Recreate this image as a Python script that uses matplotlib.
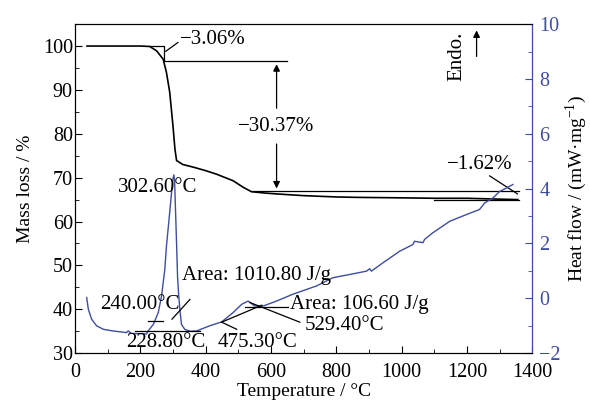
import numpy as np
import matplotlib.pyplot as plt
from matplotlib.ticker import MultipleLocator

plt.rcParams['font.family'] = ['Liberation Serif', 'DejaVu Serif']
plt.rcParams['mathtext.fontset'] = 'custom'
plt.rcParams['mathtext.rm'] = 'Liberation Serif'
plt.rcParams['font.size'] = 15

# TG curve (mass loss, %)
t_mass = [37, 100, 200, 229, 250, 270, 280, 290, 300, 306, 311, 330, 362, 400,
          433, 484, 515, 540, 580, 616, 700, 800, 871, 1000, 1100, 1200, 1300, 1355]
mass = [100, 100, 100, 99.9, 98.9, 97.0, 94.0, 89.5, 81.8, 76.5, 73.9, 73.0,
        72.4, 71.6, 70.8, 69.3, 67.8, 66.8, 66.5, 66.3, 65.9, 65.6, 65.5,
        65.4, 65.3, 65.3, 65.1, 65.0]

# DSC curve (heat flow, mW/mg)
t_hf = [36, 41, 51, 66, 87, 116, 158, 163, 173, 219, 224, 240, 255, 265, 270,
        275, 280, 290, 296, 300, 302.6, 305, 307, 311, 314, 317, 321, 326, 336,
        352, 372, 413, 449, 484, 510, 530, 550, 576, 617, 667, 739, 789, 841,
        892, 902, 907, 943, 994, 1034, 1039, 1065, 1070, 1095, 1147, 1197,
        1238, 1254, 1279, 1300, 1320, 1340]
hf = [0.03, -0.4, -0.76, -1.0, -1.13, -1.19, -1.25, -1.19, -1.28, -1.3, -1.19,
      -0.95, -0.52, 0.08, 0.57, 1.05, 1.9, 3.13, 3.9, 4.35, 4.5, 4.3, 3.5, 2.0,
      0.8, 0.2, -0.4, -0.95, -1.13, -1.2, -1.19, -1.0, -0.86, -0.52, -0.22,
      -0.1, -0.28, -0.28, -0.1, 0.15, 0.45, 0.75, 0.87, 0.99, 1.08, 0.99, 1.3,
      1.72, 1.96, 2.08, 2.03, 2.15, 2.39, 2.81, 3.05, 3.24, 3.48, 3.66, 3.9,
      4.02, 4.15]

blue = '#3f4d9e'

fig = plt.figure(figsize=(5.9, 4.05), dpi=100)
ax = fig.add_axes([0.127, 0.128, 0.7755, 0.8125])
ax2 = ax.twinx()

ax.plot(t_mass, mass, color='black', lw=1.2)
ax2.plot(t_hf, hf, color=blue, lw=1.0)

ax.set_xlim(0, 1400)
ax.set_ylim(30, 105)
ax2.set_ylim(-2, 10)

ax.xaxis.set_major_locator(MultipleLocator(200))
ax.xaxis.set_minor_locator(MultipleLocator(100))
ax.yaxis.set_major_locator(MultipleLocator(10))
ax.yaxis.set_minor_locator(MultipleLocator(5))
ax2.yaxis.set_major_locator(MultipleLocator(2))
ax2.yaxis.set_minor_locator(MultipleLocator(1))

ax.tick_params(which='both', direction='in', top=False, right=False, labelsize=14.5)
ax.tick_params(which='major', length=5)
ax.tick_params(axis='x', which='major', pad=7)
ax.tick_params(axis='y', which='major', pad=1.5)
ax.tick_params(which='minor', length=3)
ax2.tick_params(which='both', direction='in', colors=blue, labelsize=14.5)
ax2.tick_params(which='major', length=5, pad=5)
ax2.tick_params(which='minor', length=3)
ax2.spines['right'].set_color(blue)

ax.set_xlabel('Temperature / °C', fontsize=14, labelpad=1)
ax.set_ylabel('Mass loss / %', fontsize=14, labelpad=6)
ax2.set_ylabel('Heat flow / (mW·mg$^{-1}$)', fontsize=14, color='black', labelpad=2)

# TG annotations
k = dict(color='black', lw=0.9)
ax.plot([229, 272, 272, 648], [100, 100, 96.5, 96.5], **k)
ax.plot([278, 315], [98.8, 100.8], **k)
ax.text(322, 101.4, '\u22123.06%', ha='left', va='center')
ax.annotate('', xy=(617, 96.5), xytext=(617, 85.2),
            arrowprops=dict(arrowstyle='-|>', color='black', lw=0.9, mutation_scale=10))
ax.annotate('', xy=(617, 66.9), xytext=(617, 78.3),
            arrowprops=dict(arrowstyle='-|>', color='black', lw=0.9, mutation_scale=10))
ax.text(617, 81.7, '\u221230.37%', ha='center', va='center')
ax.plot([541, 1360], [66.9, 66.9], **k)
ax.plot([1100, 1360], [65.0, 65.0], **k)
ax.plot([1269, 1354], [70.4, 66.3], **k)
ax.text(1238, 73.1, '\u22121.62%', ha='center', va='center')
ax.text(1168, 97.7, 'Endo.', rotation=90, ha='center', va='center')
ax.annotate('', xy=(1229, 104.2), xytext=(1229, 97),
            arrowprops=dict(arrowstyle='-|>', color='black', lw=0.9, mutation_scale=10))

# DSC annotations
ax2.plot([223, 269], [-0.83, -0.83], **k)
ax2.plot([297, 352], [-0.76, -0.04], **k)
ax2.plot([183, 382], [-1.2, -1.2], **k)
ax2.plot([449, 572], [-0.87, -0.25], **k)
ax2.plot([520, 651], [-0.33, -0.33], **k)
ax2.plot([535, 688], [-0.15, -0.87], **k)
ax2.plot([449, 495], [-0.87, -1.13], **k)

ax2.text(252, 4.05, '302.60°C', ha='center', va='center')
ax2.text(199, -0.22, '240.00°C', ha='center', va='center')
ax2.text(327, 0.84, 'Area: 1010.80 J/g', ha='left', va='center')
ax2.text(278, -1.61, '228.80°C', ha='center', va='center')
ax2.text(558, -1.61, '475.30°C', ha='center', va='center')
ax2.text(657, -0.22, 'Area: 106.60 J/g', ha='left', va='center')
ax2.text(703, -1.0, '529.40°C', ha='left', va='center')

fig.savefig('out.png', dpi=100)
